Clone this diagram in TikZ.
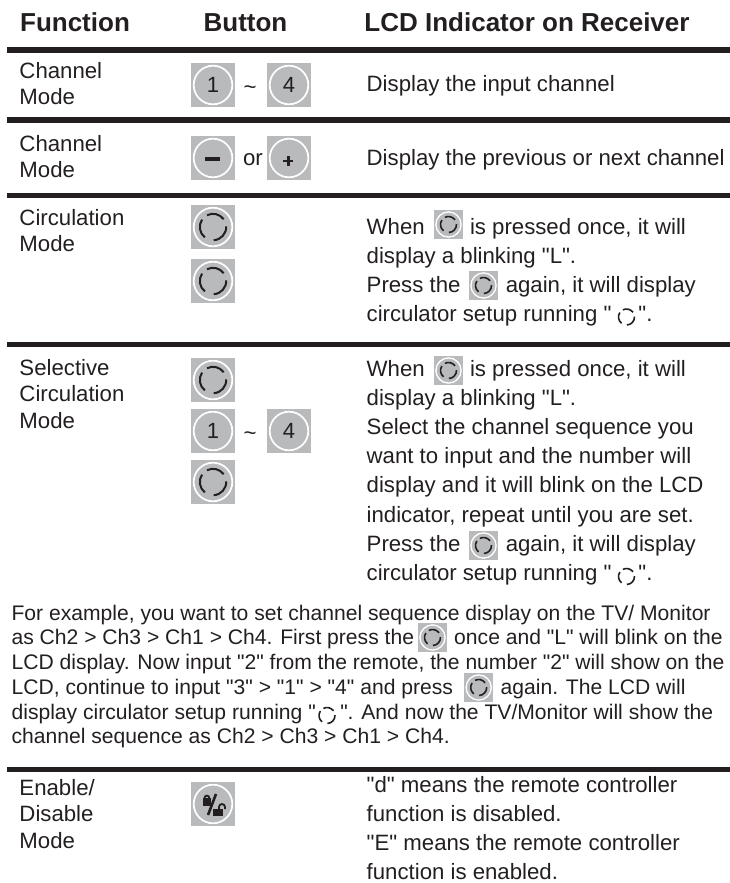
\documentclass[tikz,border=0pt]{standalone}
\usepackage{fontspec}
\setmainfont{Liberation Sans}[Ligatures=TeXOff]
\usetikzlibrary{positioning}
\definecolor{btngray}{RGB}{184,186,188}
\definecolor{inkblack}{RGB}{35,31,32}
\tikzset{
  every node/.style={inner sep=0pt,outer sep=0pt,text=inkblack},
  rulebar/.style={line width=5.4pt,draw=inkblack},
  headtext/.style={font=\fontsize{26}{30}\selectfont\bfseries,anchor=base},
  celltext/.style={font=\fontsize{22.2}{26.5}\selectfont,anchor=north west,align=left},
  desctext/.style={font=\fontsize{22.2}{29.2}\selectfont,anchor=north west,align=left},
  notetext/.style={font=\fontsize{21.1}{24.7}\selectfont,anchor=north west,align=left},
  btntile/.style={fill=btngray,minimum size=44pt},
  minitile/.style={fill=btngray,minimum size=29pt},
  numtext/.style={font=\fontsize{22}{24}\selectfont},
  linktext/.style={font=\fontsize{22.2}{24}\selectfont},
}
% grey tile with white ring
\newcommand{\btnbase}[3]{%
  \node[btntile] (#1) at (#2,#3) {};
  \draw[white,line width=1.7pt] (#1) circle (19.3pt);
}
% broken circle: x, y, radius, line width
\newcommand{\circmark}[4]{%
  \draw[inkblack,line width=#4] (#1,#2) ++(117:#3) arc[start angle=117,end angle=36,radius=#3];
  \draw[inkblack,line width=#4] (#1,#2) ++(3:#3) arc[start angle=3,end angle=-87,radius=#3];
  \draw[inkblack,line width=#4] (#1,#2) ++(146:#3) arc[start angle=146,end angle=232,radius=#3];
}
\newcommand{\circbtn}[3]{%
  \btnbase{#1}{#2}{#3}
  \circmark{#2}{#3}{13.2pt}{2pt}
}
\newcommand{\minicirc}[3]{%
  \node[minitile] (#1) at (#2,#3) {};
  \draw[white,line width=1.3pt] (#1) circle (12.6pt);
  \circmark{#2}{#3}{8pt}{1.6pt}
}
\begin{document}
\begin{tikzpicture}[x=1pt,y=-1pt]
\useasboundingbox (0,0) rectangle (730,883);
% header
\node[headtext] (hfunc) at (75,31.7) {Function};
\node[headtext] (hbtn) at (245.5,31.7) {Button};
\node[headtext] (hlcd) at (527,31.7) {LCD Indicator on Receiver};
\draw[rulebar] (7.3,50) -- (730,50);
\draw[rulebar] (7.3,120) -- (730,120);
\draw[rulebar] (7.3,195.5) -- (730,195.5);
\draw[rulebar] (7.3,344.5) -- (730,344.5);
\draw[rulebar] (7.3,769.5) -- (730,769.5);
% row one
\node[celltext] (f1) at (19.5,62) {Channel\\Mode};
\btnbase{b1a}{213}{85}
\node[numtext] at (b1a) {1};
\node[linktext] (t1) at (250,90) {\textasciitilde};
\btnbase{b1b}{289}{85}
\node[numtext] at (b1b) {4};
\node[desctext] (d1) at (366.7,75) {Display the input channel};
% row two
\node[celltext] (f2) at (19.5,135) {Channel\\Mode};
\btnbase{b2a}{213}{158}
\draw[line width=4pt,inkblack] (205,158.5) -- (220,158.5);
\node[linktext] (t2) at (253,160) {or};
\btnbase{b2b}{289}{158}
\draw[line width=2.8pt,inkblack] (283.3,161) -- (293.3,161) (288.3,156) -- (288.3,166);
\node[desctext] (d2) at (366.7,149) {Display the previous or next channel};
% row three
\node[celltext] (f3) at (19.5,209) {Circulation\\Mode};
\circbtn{b3a}{213}{227}
\circbtn{b3b}{213}{281}
\node[desctext] (d3) at (366.7,218) {When \hspace{33pt} is pressed once, it will\\display a blinking "L".\\Press the \hspace{33pt} again, it will display\\circulator setup running "\hspace{27pt}".};
\minicirc{m3a}{448.5}{224.5}
\minicirc{m3b}{483.5}{285.5}
\circmark{626.5}{317}{8pt}{1.6pt}
% row four
\node[celltext] (f4) at (19.5,359) {Selective\\Circulation\\Mode};
\circbtn{b4a}{213}{380}
\btnbase{b4b}{213}{431}
\node[numtext] at (b4b) {1};
\node[linktext] (t4) at (250,436) {\textasciitilde};
\btnbase{b4c}{289}{431}
\node[numtext] at (b4c) {4};
\circbtn{b4d}{213}{482}
\node[desctext] (d4) at (366.7,360) {When \hspace{33pt} is pressed once, it will\\display a blinking "L".\\Select the channel sequence you\\want to input and the number will\\display and it will blink on the LCD\\indicator, repeat until you are set.\\Press the \hspace{33pt} again, it will display\\circulator setup running "\hspace{27pt}".};
\minicirc{m4a}{448.5}{370.5}
\minicirc{m4b}{483.5}{545.5}
\circmark{626.5}{576.5}{8pt}{1.6pt}
% example text
\node[notetext] (note) at (11.6,605) {For example, you want to set channel sequence display on the TV/ Monitor\\as Ch2 > Ch3 > Ch1 > Ch4. First press the \hspace{28.5pt} once and "L" will blink on the\\LCD display. Now input "2" from the remote, the number "2" will show on the\\LCD, continue to input "3" > "1" > "4" and press \hspace{36pt} again. The LCD will\\display circulator setup running "\hspace{24.5pt}". And now the TV/Monitor will show the\\channel sequence as Ch2 > Ch3 > Ch1 > Ch4.};
\minicirc{m5a}{432.5}{637.5}
\minicirc{m5b}{478.7}{687.5}
\circmark{327}{715.5}{8pt}{1.6pt}
% last row
\node[celltext] (f5) at (19.5,779) {Enable/\\Disable\\Mode};
\btnbase{b5}{213}{804}
\fill[inkblack] (202.7,798) rectangle (211,805.5);
\draw[inkblack,line width=1.8pt] (204.5,798) arc[start angle=180,end angle=0,radius=2.4pt];
\draw[inkblack,line width=2.6pt] (216,794) -- (208,815);
\fill[inkblack] (212.7,809.3) rectangle (222.7,816);
\draw[inkblack,line width=1.8pt] (219,809.3) -- (219,807) arc[start angle=180,end angle=0,radius=3pt] -- (225,809);
\node[desctext] (d5) at (366.7,776) {"d" means the remote controller\\function is disabled.\\"E" means the remote controller\\function is enabled.};
\end{tikzpicture}
\end{document}
